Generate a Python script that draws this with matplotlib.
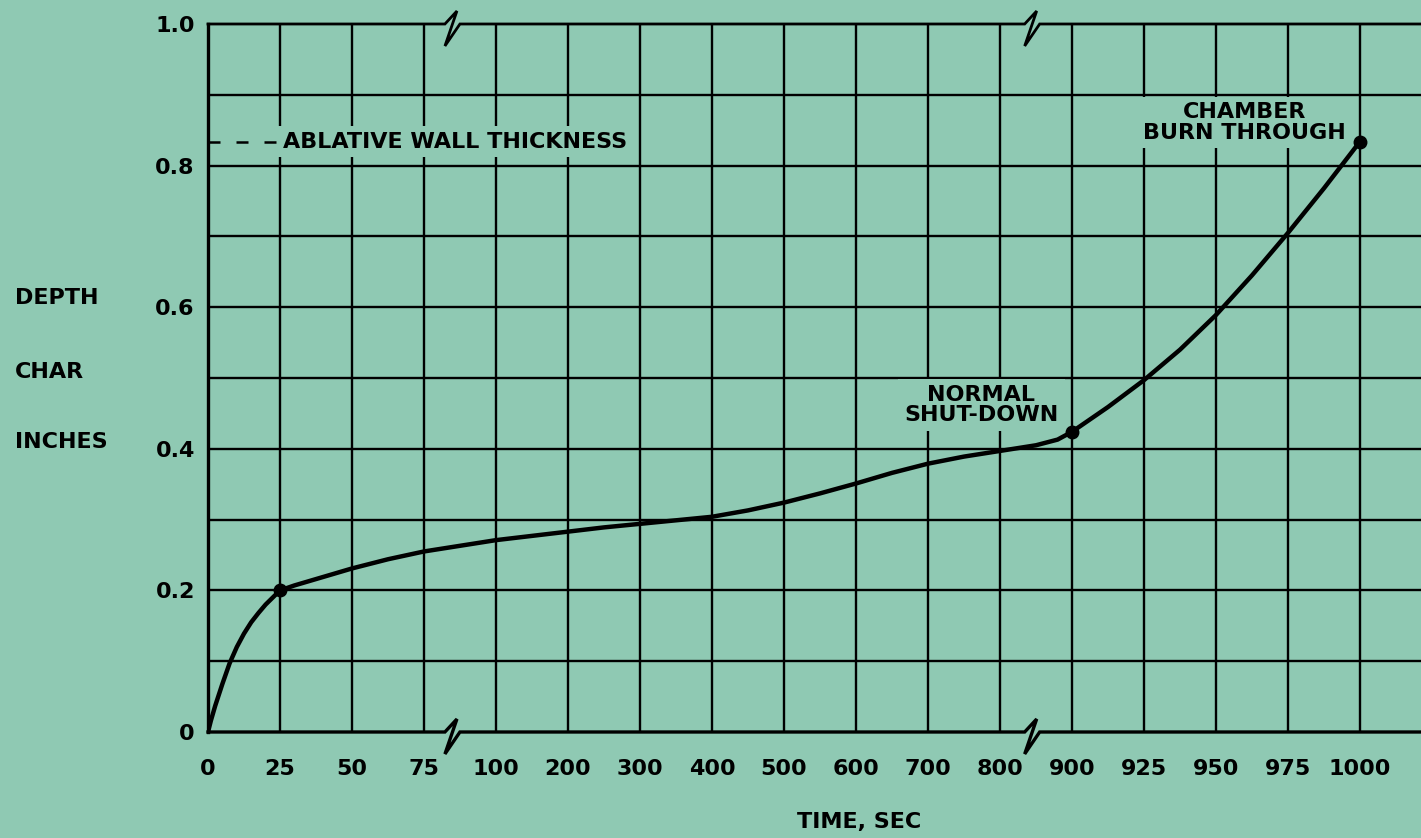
import numpy as np
import matplotlib
matplotlib.use("Agg")
import matplotlib.pyplot as plt
from matplotlib.lines import Line2D
from matplotlib.transforms import IdentityTransform
from matplotlib.ticker import NullLocator

# ---------------- data ----------------
tick_times = [0, 25, 50, 75, 100, 200, 300, 400, 500, 600, 700, 800,
              900, 925, 950, 975, 1000]
tick_labels = ["0", "25", "50", "75", "100", "200", "300", "400", "500",
               "600", "700", "800", "900", "925", "950", "975", "1000"]
y_ticks = [0, 0.2, 0.4, 0.6, 0.8, 1.0]
y_tick_labels = ["0", "0.2", "0.4", "0.6", "0.8", "1.0"]
y_grid = [0.1, 0.2, 0.3, 0.4, 0.5, 0.6, 0.7, 0.8, 0.9]

time_sec = [0, 1, 2.5, 5, 7.5, 10, 12.5, 15, 17.5, 20, 22.5, 25, 30, 35,
            40, 50, 62.5, 75, 87.5, 100, 150, 200, 250, 300, 350, 400, 450,
            500, 550, 600, 650, 700, 750, 800, 850, 880, 900, 912.5, 925,
            937.5, 950, 962.5, 975, 987.5, 1000]
char_depth_in = [0.000, 0.016, 0.037, 0.068, 0.097, 0.120, 0.139, 0.155,
                 0.168, 0.180, 0.190, 0.200, 0.207, 0.213, 0.219, 0.231,
                 0.244, 0.255, 0.263, 0.271, 0.277, 0.283, 0.289, 0.294,
                 0.299, 0.304, 0.313, 0.324, 0.337, 0.351, 0.366, 0.379,
                 0.389, 0.397, 0.405, 0.413, 0.424, 0.459, 0.497, 0.540,
                 0.589, 0.645, 0.705, 0.768, 0.834]
marker_times = [25, 900, 1000]
marker_depths = [0.200, 0.424, 0.834]
wall_thickness = 0.834
break_times = [84.7, 844]

# ---------------- style ----------------
BG = "#8fc9b3"
W, H = 1421, 838
plt.rcParams["font.family"] = ["DejaVu Sans"]
plt.rcParams["font.weight"] = "bold"
FS = 16

fig = plt.figure(figsize=(W / 100, H / 100), dpi=100, facecolor=BG)
ax = fig.add_axes([208 / W, (H - 732) / H, (W - 208) / W, (732 - 24) / H],
                  facecolor=BG)

knots_t = tick_times + [1025]
knots_p = list(range(len(knots_t)))


def fwd(t):
    return np.interp(t, knots_t, knots_p)


def inv(p):
    return np.interp(p, knots_p, knots_t)


ax.set_xscale("function", functions=(fwd, inv))
x_max = float(inv((W - 208) / 72.0))
ax.set_xlim(0, x_max)
ax.set_ylim(0, 1)

ax.set_xticks(tick_times)
ax.set_xticklabels(tick_labels)
ax.xaxis.set_minor_locator(NullLocator())
ax.set_yticks(y_ticks)
ax.set_yticklabels(y_tick_labels)
ax.yaxis.set_minor_locator(NullLocator())
ax.tick_params(axis="x", length=0, pad=19.5, labelsize=FS)
ax.tick_params(axis="y", length=0, pad=9.5, labelsize=FS)

for s in ["top", "right", "bottom"]:
    ax.spines[s].set_visible(False)
ax.spines["left"].set_linewidth(2.4)
ax.spines["left"].set_zorder(6)

ax.grid(axis="x", which="major", color="black", lw=1.7)
ax.grid(axis="y", visible=False)
ax.hlines(y_grid, 0, x_max, color="black", lw=1.7, zorder=1.6)

# curve and markers
ax.plot(time_sec, char_depth_in, color="black", lw=3.2,
        solid_capstyle="round", solid_joinstyle="round", zorder=4)
ax.plot(marker_times, marker_depths, "o", ms=9, color="black", zorder=5)

# ablative wall thickness dashed line + text
ax.plot([0, 24], [wall_thickness, wall_thickness], color="black", lw=1.8,
        dashes=(4.8, 6.4), zorder=4)
box = dict(boxstyle="square,pad=0.25", fc=BG, ec="none")
ax.text(26, wall_thickness, "ABLATIVE WALL THICKNESS", ha="left",
        va="center", fontsize=FS, bbox=box, zorder=3)
ax.text(774, 0.462, "NORMAL\nSHUT-DOWN", ha="center", va="center",
        multialignment="center", linespacing=1.0, fontsize=FS,
        bbox=dict(boxstyle="square,pad=0.28", fc=BG, ec="none"), zorder=3)
ax.text(960, 0.861, "CHAMBER\nBURN THROUGH", ha="center", va="center",
        multialignment="center", linespacing=1.02, fontsize=FS,
        bbox=dict(boxstyle="square,pad=0.25", fc=BG, ec="none"), zorder=3)

# axis titles
fig.text(15 / W, 1 - 298 / H, "DEPTH", ha="left", va="center", fontsize=FS)
fig.text(15 / W, 1 - 372 / H, "CHAR", ha="left", va="center", fontsize=FS)
fig.text(15 / W, 1 - 442 / H, "INCHES", ha="left", va="center", fontsize=FS)
fig.text(859 / W, 1 - 822 / H, "TIME, SEC", ha="center", va="center",
         fontsize=FS)

# top (1.0) and bottom (0) lines with break symbols
for yv, lw in [(0.0, 2.4), (1.0, 2.0)]:
    x0, yd = ax.transData.transform((0, yv))
    xe, _ = ax.transData.transform((x_max, yv))
    xs, ys = [x0], [yd]
    for b in break_times:
        c, _ = ax.transData.transform((b, yv))
        xs += [c - 7, c + 5, c - 7, c + 8]
        ys += [yd, yd + 13, yd - 22, yd]
    xs.append(xe)
    ys.append(yd)
    fig.add_artist(Line2D(xs, ys, transform=IdentityTransform(),
                          color="black", lw=lw, solid_joinstyle="miter",
                          zorder=6))

fig.savefig("out.png", dpi=100, facecolor=BG)
